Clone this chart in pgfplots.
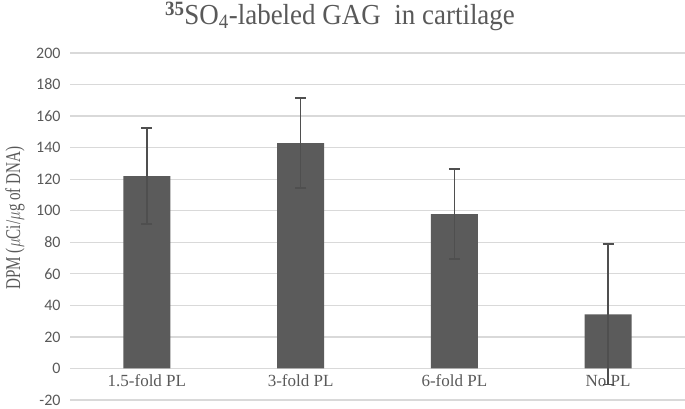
\documentclass[border=0pt]{standalone}
\usepackage{pgfplots}
\pgfplotsset{compat=1.18}
\usepackage{fontspec}
\setmainfont{Liberation Serif}
\newfontfamily\carlito{Carlito}
\definecolor{bargray}{HTML}{5B5B5B}
\definecolor{errgray}{HTML}{4F4F4F}
\definecolor{gridgray}{HTML}{D9D9D9}
\definecolor{txtgray}{HTML}{595959}
\begin{document}
\begin{tikzpicture}
\useasboundingbox (0,0) rectangle (685bp,409bp);
\begin{axis}[
  at={(70bp,9bp)}, anchor=south west,
  scale only axis, width=615bp, height=347bp,
  ybar, bar width=47bp,
  xmin=-0.5, xmax=3.5, ymin=-20, ymax=200,
  ytick={-20,0,20,...,200},
  xtick={0,1,2,3}, xticklabels={1.5-fold PL, 3-fold PL, 6-fold PL, No PL},
  axis line style={draw=none},
  major tick length=0pt,
  ymajorgrids, grid style={gridgray, line width=1.3bp},
  yticklabel style={font=\carlito\fontsize{16bp}{18bp}\selectfont, text=txtgray, xshift=-6bp},
  xticklabel style={font=\fontsize{17bp}{19bp}\selectfont, text=txtgray, yshift=28.5bp},
  /pgf/number format/assume math mode=true,
]
\addplot[fill=bargray, draw=none,
  error bars/.cd, y dir=both, y explicit,
  error bar style={line width=1.6bp, color=errgray},
  error mark options={rotate=90, mark size=5.5bp, line width=1.6bp, color=errgray}]
  coordinates {
    (0,122) +- (0,30.5)
    (1,142.8) +- (0,28.5)
    (2,97.8) +- (0,28.5)
    (3,34.3) +- (0,44.5)
  };
\end{axis}
\node[rotate=90, font=\fontsize{21bp}{24bp}\selectfont, text=txtgray] at (15bp,191bp) {\scalebox{0.72}[1]{DPM ($\mu$Ci/$\mu$g of DNA)}};
\node[font=\fontsize{29bp}{32bp}\selectfont, text=txtgray] at (340bp,393bp) {\scalebox{0.93}[1]{\textsuperscript{\textbf{35}}SO\textsubscript{4}-labeled GAG\ \ in cartilage}};
\end{tikzpicture}
\end{document}
